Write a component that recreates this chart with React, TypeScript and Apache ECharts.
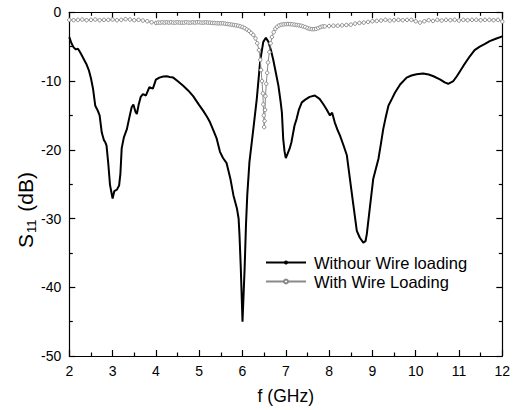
import React, { useEffect, useRef } from "react";
import * as echarts from "echarts";

const xTicks = [2, 3, 4, 5, 6, 7, 8, 9, 10, 11, 12];
const yTicks = [-50, -40, -30, -20, -10, 0];

const freqNoWire = [
  2.0, 2.05, 2.1, 2.15, 2.2, 2.25, 2.3, 2.35, 2.4, 2.45, 2.5, 2.55, 2.6, 2.65, 2.7, 2.75, 2.8, 2.83, 2.86, 2.9,
  2.94, 3.0, 3.04, 3.1, 3.15, 3.18, 3.21, 3.26, 3.33, 3.38, 3.44, 3.48, 3.53, 3.56, 3.6, 3.65, 3.7, 3.77, 3.85, 3.93,
  4.0, 4.08, 4.17, 4.25, 4.32, 4.4, 4.5, 4.63, 4.75, 4.86, 5.0, 5.09, 5.18, 5.25, 5.33, 5.4, 5.48, 5.55, 5.63, 5.72,
  5.79, 5.87, 5.91, 5.93, 5.96, 6.0, 6.05, 6.08, 6.11, 6.16, 6.25, 6.33, 6.41, 6.48, 6.54, 6.6, 6.66, 6.71, 6.77, 6.83,
  6.88, 6.91, 6.94, 6.97, 7.0, 7.04, 7.09, 7.13, 7.2, 7.25, 7.3, 7.37, 7.45, 7.55, 7.67, 7.78, 7.86, 7.94, 8.02, 8.07,
  8.13, 8.2, 8.25, 8.33, 8.41, 8.48, 8.56, 8.64, 8.71, 8.79, 8.84, 8.87, 8.94, 9.02, 9.14, 9.2, 9.25, 9.3, 9.37, 9.45,
  9.52, 9.64, 9.79, 9.9, 10.02, 10.17, 10.3, 10.41, 10.56, 10.67, 10.75, 10.87, 10.95, 11.02, 11.1, 11.25, 11.36, 11.48, 11.6, 11.71,
  11.85, 12.0,
];
const s11NoWire = [
  -3.6, -4.5, -5.1, -5.4, -5.3, -5.8, -6.4, -7.0, -7.6, -8.4, -9.6, -11.2, -13.6, -14.2, -15.0, -17.5, -18.6, -18.9, -19.4, -22.0,
  -25.1, -27.1, -26.0, -25.8, -25.2, -23.5, -19.8, -18.2, -17.0, -15.5, -13.8, -13.4, -14.5, -14.8, -13.5, -12.3, -11.9, -12.1, -10.9, -11.1,
  -9.8, -9.5, -9.35, -9.3, -9.4, -9.5, -10.0, -10.7, -11.4, -12.2, -13.5, -14.3, -15.2, -16.0, -17.2, -18.3, -20.3, -21.2, -21.9, -24.2,
  -26.6, -28.5, -30.0, -32.3, -37.1, -45.0, -37.1, -31.0, -26.6, -21.8, -17.0, -12.6, -7.0, -4.3, -3.7, -4.3, -5.6, -6.9, -8.8, -10.7,
  -13.0, -14.6, -18.4, -20.2, -21.2, -20.6, -19.8, -18.9, -16.5, -15.5, -14.2, -13.1, -12.7, -12.3, -12.1, -12.6, -13.3, -14.1, -15.0, -14.6,
  -16.0, -17.2, -17.9, -19.3, -20.8, -24.2, -28.0, -31.8, -32.8, -33.5, -33.3, -32.3, -28.5, -24.2, -21.3, -19.0, -17.0, -15.5, -13.6, -12.6,
  -11.7, -10.5, -9.5, -9.2, -9.0, -8.9, -9.05, -9.3, -9.75, -10.2, -10.4, -10.0, -9.3, -8.6, -7.8, -6.4, -5.5, -5.0, -4.6, -4.2,
  -3.85, -3.5,
];

const freqWire = [
  2.0, 2.1, 2.2, 2.3, 2.4, 2.5, 2.6, 2.7, 2.8, 2.9, 3.0, 3.1, 3.2, 3.3, 3.4, 3.5, 3.6, 3.7, 3.8, 3.9,
  4.0, 4.05, 4.1, 4.15, 4.2, 4.25, 4.3, 4.35, 4.4, 4.45, 4.5, 4.55, 4.6, 4.65, 4.7, 4.75, 4.8, 4.85, 4.9, 4.95,
  5.0, 5.05, 5.1, 5.15, 5.2, 5.25, 5.3, 5.35, 5.4, 5.45, 5.5, 5.55, 5.6, 5.65, 5.7, 5.75, 5.8, 5.85, 5.9, 5.95,
  6.0, 6.05, 6.1, 6.15, 6.2, 6.25, 6.3, 6.34, 6.38, 6.41, 6.43, 6.45, 6.47, 6.48, 6.49, 6.5, 6.51, 6.52, 6.53, 6.55,
  6.57, 6.59, 6.62, 6.65, 6.68, 6.72, 6.76, 6.8, 6.85, 6.9, 6.95, 7.0, 7.05, 7.1, 7.15, 7.2, 7.25, 7.3, 7.35, 7.4,
  7.45, 7.5, 7.55, 7.6, 7.65, 7.7, 7.75, 7.8, 7.85, 7.9, 8.0, 8.1, 8.2, 8.3, 8.4, 8.5, 8.6, 8.7, 8.8, 8.9,
  9.0, 9.1, 9.2, 9.3, 9.4, 9.5, 9.6, 9.7, 9.8, 9.9, 10.0, 10.1, 10.2, 10.3, 10.4, 10.5, 10.6, 10.7, 10.8, 10.9,
  11.0, 11.1, 11.2, 11.3, 11.4, 11.5, 11.6, 11.7, 11.8, 11.9, 12.0,
];
const s11Wire = [
  -1.1, -1.15, -1.1, -1.05, -1.15, -1.1, -1.05, -1.15, -1.1, -1.1, -1.05, -1.15, -1.1, -1.0, -1.05, -1.15, -1.1, -1.2, -1.3, -1.45,
  -1.55, -1.5, -1.5, -1.45, -1.5, -1.45, -1.5, -1.45, -1.5, -1.5, -1.45, -1.5, -1.5, -1.5, -1.45, -1.5, -1.5, -1.45, -1.5, -1.45,
  -1.45, -1.5, -1.5, -1.45, -1.5, -1.5, -1.55, -1.55, -1.6, -1.6, -1.6, -1.6, -1.65, -1.7, -1.75, -1.8, -1.85, -1.9, -1.95, -2.05,
  -2.15, -2.3, -2.5, -2.7, -3.0, -3.3, -3.8, -4.5, -5.5, -6.9, -8.4, -10.0, -11.8, -13.4, -15.0, -16.7, -15.8, -14.2, -12.2, -10.4,
  -8.8, -7.3, -5.8, -4.5, -3.6, -2.9, -2.4, -2.1, -1.9, -1.8, -1.75, -1.72, -1.7, -1.72, -1.75, -1.8, -1.85, -1.9, -1.95, -2.05,
  -2.15, -2.3, -2.4, -2.45, -2.45, -2.4, -2.3, -2.15, -2.05, -2.05, -2.0, -1.95, -1.95, -1.9, -1.85, -1.8, -1.65, -1.55, -1.5, -1.4,
  -1.3, -1.25, -1.2, -1.1, -1.2, -1.15, -1.1, -1.15, -1.1, -1.1, -1.3, -1.5, -1.3, -1.15, -1.25, -1.1, -1.2, -1.1, -1.15, -1.1,
  -1.2, -1.1, -1.15, -1.1, -1.1, -1.15, -1.1, -1.1, -1.15, -1.1, -1.35,
];

const FONT = 'Arial, "Liberation Sans", sans-serif';

export default function App() {
  const ref = useRef<HTMLDivElement>(null);
  useEffect(() => {
    if (!ref.current) return;
    const chart = echarts.init(ref.current, undefined, { renderer: "svg" });
    const axisCommon = {
      type: "value" as const,
      axisLine: { show: true, onZero: false, lineStyle: { color: "#000", width: 1.2 } },
      axisTick: { show: true, inside: true, length: 6, lineStyle: { color: "#000", width: 1.2 } },
      minorTick: { show: true, splitNumber: 2, length: 3.5, lineStyle: { color: "#000", width: 1.2 } },
      splitLine: { show: false },
      minorSplitLine: { show: false },
    };
    const labelStyle = { color: "#000", fontSize: 14, fontFamily: FONT };
    chart.setOption({
      animation: false,
      backgroundColor: "#fff",
      grid: { left: 69.3, right: 11.7, top: 12.3, bottom: 50.3, containLabel: false },
      xAxis: [
        {
          ...axisCommon,
          min: xTicks[0],
          max: xTicks[xTicks.length - 1],
          interval: 1,
          position: "bottom",
          axisLabel: { ...labelStyle, margin: 8 },
          name: "f (GHz)",
          nameLocation: "middle",
          nameGap: 31,
          nameTextStyle: { color: "#000", fontSize: 17.5, fontFamily: FONT },
        },
        {
          ...axisCommon,
          min: xTicks[0],
          max: xTicks[xTicks.length - 1],
          interval: 1,
          position: "top",
          axisLabel: { show: false },
        },
      ],
      yAxis: [
        {
          ...axisCommon,
          min: yTicks[0],
          max: yTicks[yTicks.length - 1],
          interval: 10,
          position: "left",
          axisLabel: { ...labelStyle, margin: 8 },
        },
        {
          ...axisCommon,
          min: yTicks[0],
          max: yTicks[yTicks.length - 1],
          interval: 10,
          position: "right",
          axisLabel: { show: false },
        },
      ],
      legend: {
        orient: "vertical",
        left: 265,
        top: 254,
        padding: 0,
        itemWidth: 40,
        itemHeight: 5,
        itemGap: 2,
        textStyle: { color: "#000", fontSize: 16.5, fontFamily: FONT, padding: [0, 0, 0, 3] },
        data: ["Withour Wire loading", "With Wire Loading"],
      },
      graphic: [
        {
          type: "text",
          x: 25,
          y: 210,
          rotation: Math.PI / 2,
          style: {
            text: "{a|S}{b|11}{a| (dB)}",
            align: "center",
            verticalAlign: "middle",
            fill: "#000",
            rich: {
              a: { fontSize: 21, fontFamily: FONT, fill: "#000", lineHeight: 25 },
              b: { fontSize: 13, fontFamily: FONT, fill: "#000", verticalAlign: "bottom", lineHeight: 15, padding: [10, 2, 0, 1] },
            },
          },
        },
      ],
      series: [
        {
          name: "Withour Wire loading",
          type: "line",
          xAxisIndex: 0,
          yAxisIndex: 0,
          data: freqNoWire.map((f, i) => [f, s11NoWire[i]]),
          symbol: "circle",
          showSymbol: false,
          lineStyle: { color: "#000", width: 2 },
          itemStyle: { color: "#000" },
          z: 3,
        },
        {
          name: "With Wire Loading",
          type: "line",
          xAxisIndex: 0,
          yAxisIndex: 0,
          data: freqWire.map((f, i) => [f, s11Wire[i]]),
          symbol: "circle",
          symbolSize: 3.5,
          showSymbol: true,
          showAllSymbol: true,
          lineStyle: { color: "#8a8a8a", width: 1 },
          itemStyle: { color: "#fff", borderColor: "#8a8a8a", borderWidth: 1 },
          z: 4,
        },
      ],
    });
    return () => chart.dispose();
  }, []);
  return <div ref={ref} style={{ width: 514, height: 410, position: "absolute", left: 0, top: 0 }} />;
}
